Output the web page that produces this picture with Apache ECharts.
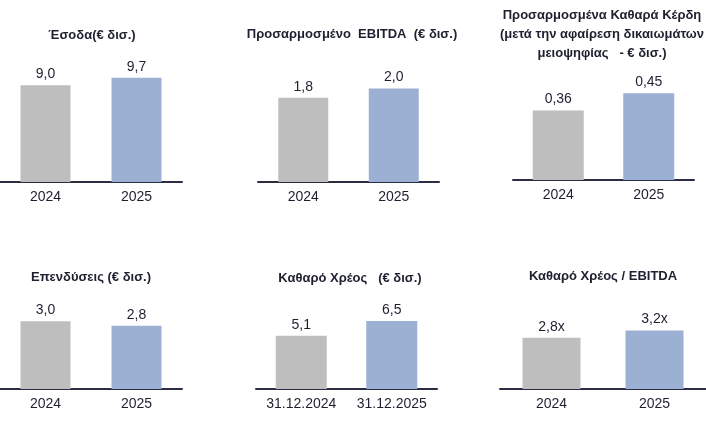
<!DOCTYPE html>
<html><head><meta charset="utf-8">
<script src="https://cdn.jsdelivr.net/npm/echarts@6/dist/echarts.min.js"></script>
<style>html,body{margin:0;padding:0;background:#fff}#c{width:706px;height:431px}</style>
</head><body><div id="c"></div>
<script>
// Data
const catsYear = ['2024', '2025'];
const catsDate = ['31.12.2024', '31.12.2025'];
const revenue = [9.0, 9.7];
const adjEbitda = [1.8, 2.0];
const adjNetProfit = [0.36, 0.45];
const capex = [3.0, 2.8];
const netDebt = [5.1, 6.5];
const netDebtEbitda = [2.8, 3.2];
const titles = [
  'Έσοδα(€ δισ.)',
  'Προσαρμοσμένο  EBITDA  (€ δισ.)',
  'Προσαρμοσμένα Καθαρά Κέρδη\n(μετά την αφαίρεση δικαιωμάτων\nμειοψηφίας   - € δισ.)',
  'Επενδύσεις (€ δισ.)',
  'Καθαρό Χρέος   (€ δισ.)',
  'Καθαρό Χρέος / EBITDA'
];

const GRAY = '#bebebe', BLUE = '#9bb0d3', AXIS = '#2b2d42', TXT = '#1e2030';
const FONT = '"Liberation Sans", Arial, sans-serif';

const panels = [
  {data: revenue, cats: catsYear, x0: 0, x1: 182, ay: 182, ppu: 10.75, max: 10, bw: 50, tx: 92, ty: 35, dec: 1, suf: ''},
  {data: adjEbitda, cats: catsYear, x0: 258, x1: 439, ay: 182, ppu: 46.8, max: 2.2, bw: 50, tx: 352, ty: 34, dec: 1, suf: ''},
  {data: adjNetProfit, cats: catsYear, x0: 513, x1: 694, ay: 180, ppu: 193, max: 0.5, bw: 51, tx: 602, ty: 34, dec: 2, suf: ''},
  {data: capex, cats: catsYear, x0: 0, x1: 182, ay: 389, ppu: 22.6, max: 4, bw: 50, tx: 91, ty: 277, dec: 1, suf: ''},
  {data: netDebt, cats: catsDate, x0: 256, x1: 437, ay: 389, ppu: 10.45, max: 8, bw: 51, tx: 350, ty: 278, dec: 1, suf: ''},
  {data: netDebtEbitda, cats: catsYear, x0: 500, x1: 707, ay: 389, ppu: 18.3, max: 4, bw: 58, tx: 603, ty: 276, dec: 1, suf: 'x'}
];

const grid = [], xAxis = [], yAxis = [], series = [], graphic = [];
panels.forEach((p, i) => {
  const h = p.ppu * p.max;
  grid.push({left: p.x0, width: p.x1 - p.x0, top: p.ay - h, height: h, containLabel: false});
  xAxis.push({type: 'category', gridIndex: i, data: p.cats,
    axisLine: {show: true, lineStyle: {color: AXIS, width: 2}},
    axisTick: {show: false},
    axisLabel: {color: TXT, fontSize: 14, fontFamily: FONT, margin: 8, interval: 0}});
  yAxis.push({type: 'value', gridIndex: i, min: 0, max: p.max, show: false, splitLine: {show: false}});
  series.push({type: 'bar', xAxisIndex: i, yAxisIndex: i, barWidth: p.bw,
    data: p.data.map((v, j) => ({value: v, itemStyle: {color: j === 0 ? GRAY : BLUE}})),
    label: {show: true, position: 'top', distance: 4, color: TXT, fontSize: 14, fontFamily: FONT,
      formatter: (d) => d.value.toFixed(p.dec).replace('.', ',') + p.suf},
    silent: true, animation: false});
  graphic.push({type: 'text', x: p.tx, y: p.ty,
    style: {text: titles[i], fill: TXT, font: 'bold 13px ' + FONT, textAlign: 'center', textVerticalAlign: 'middle', lineHeight: 19}});
});

const chart = echarts.init(document.getElementById('c'), null, {renderer: 'canvas'});
chart.setOption({animation: false, backgroundColor: '#fff', grid, xAxis, yAxis, series, graphic});
</script>
</body></html>
